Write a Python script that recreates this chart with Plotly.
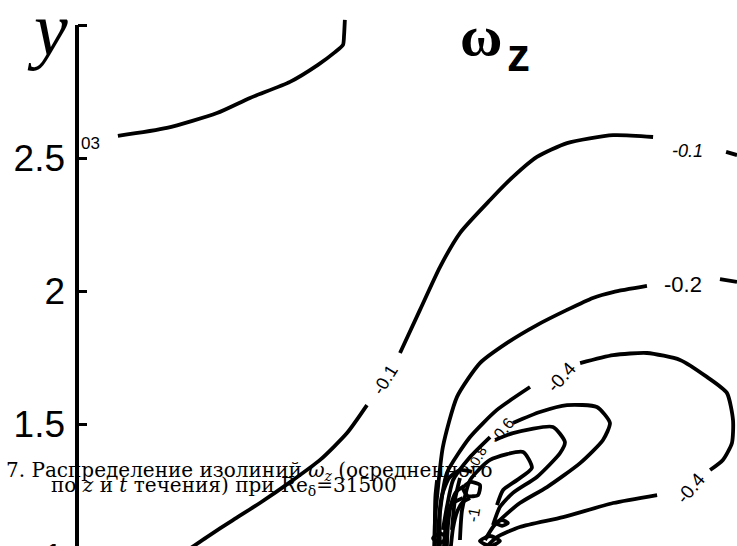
import plotly.graph_objects as go

W, H = 737, 546

# ---------------- iso-lines of the mean vorticity (x, y in flow units) ----------------
lvl_003 = 0.03
iso003_x = [0.146, 0.330, 0.518, 0.642, 0.792, 0.897, 0.961, 0.991, 0.995, 0.998]
iso003_y = [2.583, 2.613, 2.669, 2.726, 2.786, 2.850, 2.898, 2.925, 2.962, 3.019]

lvl_01 = -0.1
iso01_right_x = [2.429, 2.470]
iso01_right_y = [2.523, 2.511]
iso01_upper_x = [2.155, 2.005, 1.832, 1.719, 1.629, 1.543, 1.430, 1.355, 1.280, 1.205]
iso01_upper_y = [2.579, 2.586, 2.556, 2.504, 2.429, 2.342, 2.218, 2.090, 1.929, 1.767]
iso01_lower_x = [1.081, 1.006, 0.905, 0.803, 0.679, 0.578, 0.480, 0.398]
iso01_lower_y = [1.571, 1.466, 1.365, 1.289, 1.203, 1.139, 1.075, 1.019]

lvl_02 = -0.2
iso02_right_x = [2.406, 2.470]
iso02_right_y = [2.045, 2.034]
iso02_main_x = [2.132, 2.005, 1.929, 1.832, 1.719, 1.607, 1.505, 1.419, 1.366, 1.344, 1.336, 1.333]
iso02_main_y = [2.019, 1.996, 1.974, 1.929, 1.872, 1.805, 1.729, 1.602, 1.414, 1.226, 1.128, 1.026]

lvl_04 = -0.4
iso04_a_x = [1.355, 1.355, 1.381, 1.468, 1.569, 1.693]
iso04_a_y = [1.026, 1.165, 1.316, 1.451, 1.553, 1.639]
iso04_b_x = [1.881, 2.005, 2.132, 2.256, 2.357, 2.432, 2.455, 2.451, 2.417, 2.369]
iso04_b_y = [1.729, 1.759, 1.767, 1.741, 1.677, 1.617, 1.515, 1.429, 1.365, 1.327]
iso04_c_x = [2.170, 2.005, 1.817, 1.655, 1.569, 1.532]
iso04_c_y = [1.233, 1.203, 1.150, 1.113, 1.075, 1.041]

lvl_06 = -0.6
iso06_a_x = [1.629, 1.730, 1.832, 1.944, 1.993, 1.967, 1.881, 1.757, 1.655, 1.592, 1.554, 1.524]
iso06_a_y = [1.504, 1.545, 1.571, 1.564, 1.504, 1.440, 1.353, 1.263, 1.203, 1.150, 1.113, 1.064]
iso06_b_x = [1.543, 1.468, 1.404, 1.381, 1.366]
iso06_b_y = [1.451, 1.376, 1.289, 1.188, 1.102]

lvl_08 = -0.8
iso08_a_x = [1.400, 1.411, 1.430]
iso08_a_y = [1.102, 1.214, 1.297]
iso08_b_x = [1.562, 1.629, 1.779, 1.824, 1.806, 1.719, 1.629, 1.580, 1.554]
iso08_b_y = [1.440, 1.466, 1.489, 1.432, 1.391, 1.301, 1.241, 1.188, 1.120]

lvl_10 = -1.0
iso10_x = [1.430, 1.438, 1.468, 1.543, 1.667, 1.700, 1.644, 1.592, 1.569]
iso10_y = [1.064, 1.177, 1.289, 1.365, 1.395, 1.335, 1.289, 1.252, 1.195]

lvl_12 = -1.2
iso12_x = [1.348, 1.351, 1.363, 1.389, 1.430, 1.475]
iso12_y = [1.041, 1.139, 1.233, 1.297, 1.327, 1.320]

lvl_15 = -1.5
iso15_x = [1.441, 1.468, 1.505, 1.498, 1.460, 1.441]
iso15_y = [1.259, 1.282, 1.271, 1.233, 1.229, 1.259]
iso15_wall_x = [1.370, 1.378, 1.400, 1.441]
iso15_wall_y = [1.041, 1.128, 1.200, 1.222]

lvl_20 = -2.0
iso20_a_x = [1.329, 1.355, 1.381, 1.355, 1.329]
iso20_a_y = [1.071, 1.090, 1.071, 1.053, 1.071]
iso20_b_x = [1.505, 1.543, 1.580, 1.543, 1.505]
iso20_b_y = [1.060, 1.079, 1.060, 1.041, 1.060]
iso20_c_x = [1.565, 1.588, 1.610, 1.588, 1.565]
iso20_c_y = [1.128, 1.139, 1.128, 1.117, 1.128]

lvl_25 = -2.5
iso25_x = [1.336, 1.336, 1.338, 1.344]
iso25_y = [1.041, 1.150, 1.230, 1.289]

lvl_30 = -3.0
iso30_x = [1.381, 1.385, 1.396, 1.415, 1.445]
iso30_y = [1.041, 1.120, 1.195, 1.244, 1.267]

lvl_35 = -3.5
iso35_x = [1.396, 1.404, 1.419, 1.441, 1.468]
iso35_y = [1.041, 1.109, 1.169, 1.207, 1.222]

segments = [
    (iso003_x, iso003_y),
    (iso01_right_x, iso01_right_y), (iso01_upper_x, iso01_upper_y), (iso01_lower_x, iso01_lower_y),
    (iso02_right_x, iso02_right_y), (iso02_main_x, iso02_main_y),
    (iso04_a_x, iso04_a_y), (iso04_b_x, iso04_b_y), (iso04_c_x, iso04_c_y),
    (iso06_a_x, iso06_a_y), (iso06_b_x, iso06_b_y),
    (iso08_a_x, iso08_a_y), (iso08_b_x, iso08_b_y),
    (iso10_x, iso10_y),
    (iso12_x, iso12_y),
    (iso15_x, iso15_y), (iso15_wall_x, iso15_wall_y),
    (iso20_a_x, iso20_a_y), (iso20_b_x, iso20_b_y), (iso20_c_x, iso20_c_y),
    (iso25_x, iso25_y),
    (iso30_x, iso30_y),
    (iso35_x, iso35_y),
]

# inline level labels: (level, x, y, angle, size, italic)
labels = [
    (lvl_01, 2.286, 2.526, 0, 18, True),
    (lvl_01, 1.149, 1.665, -58, 18, False),
    (lvl_02, 2.267, 2.023, 0, 22, False),
    (lvl_04, 1.813, 1.677, -48, 19, False),
    (lvl_04, 2.294, 1.259, -50, 19, False),
    (lvl_06, 1.588, 1.477, -50, 16, False),
    (lvl_08, 1.494, 1.372, -60, 14, False),
    (lvl_10, 1.483, 1.158, -80, 16, False),
]

y_ticks = [1.5, 2.0, 2.5, 3.0]
y_tick_text = ["1.5", "2", "2.5", ""]

PX_PER_UNIT_X = 266.4
PX_PER_UNIT_Y = 266.0
X0 = -79 / PX_PER_UNIT_X
Y_TOP = 823 / PX_PER_UNIT_Y
Y_BOT = Y_TOP - H / PX_PER_UNIT_Y
AXIS_X = -2 / PX_PER_UNIT_X


def paper_y(v):
    return (v - Y_BOT) / (Y_TOP - Y_BOT)


fig = go.Figure()
for sx, sy in segments:
    fig.add_trace(go.Scatter(x=sx, y=sy, mode="lines",
                             line=dict(color="black", width=3.8, shape="spline", smoothing=0.6),
                             hoverinfo="skip", showlegend=False))

ann = []
for lv, lx, ly, ang, sz, it in labels:
    ann.append(dict(x=lx, y=ly, xref="x", yref="y", text=f"{lv:g}", showarrow=False,
                    xanchor="center", yanchor="middle", textangle=ang,
                    font=dict(family="Liberation Sans", size=sz, color="black",
                              style="italic" if it else "normal")))
ann.append(dict(x=0.0, y=2.556, xref="x", yref="y", text="03", showarrow=False,
                xanchor="left", yanchor="middle",
                font=dict(family="Liberation Sans", size=17, color="black")))

# lowest tick label, only partly inside the frame
ann.append(dict(x=66 / W, y=paper_y(1.0), xref="paper", yref="paper", text="1", showarrow=False,
                xanchor="right", yanchor="middle",
                font=dict(family="Liberation Sans", size=37, color="black")))

# axis name and title
ann.append(dict(x=48 / W, y=1 - 29 / H, xref="paper", yref="paper", text="<i>y</i>", showarrow=False,
                xanchor="center", yanchor="middle",
                font=dict(family="Liberation Serif", size=76, color="black")))
ann.append(dict(x=481 / W, y=1 - 35 / H, xref="paper", yref="paper", text="<b>ω</b>", showarrow=False,
                xanchor="center", yanchor="middle",
                font=dict(family="Liberation Serif", size=58, color="black")))
ann.append(dict(x=518 / W, y=1 - 55 / H, xref="paper", yref="paper", text="<b>z</b>", showarrow=False,
                xanchor="center", yanchor="middle",
                font=dict(family="Liberation Sans", size=46, color="black")))

# caption
cap_font = dict(family="DejaVu Serif", size=20, color="black")
ann.append(dict(x=4 / W, y=1 - 456 / H, xref="paper", yref="paper", xanchor="left", yanchor="top",
                text="7. Распределение изолиний <i>ω<sub>z</sub></i> (осредненного",
                showarrow=False, font=cap_font))
ann.append(dict(x=49 / W, y=1 - 471 / H, xref="paper", yref="paper", xanchor="left", yanchor="top",
                text="по <i>z</i> и <i>t</i> течения) при Re<sub>δ</sub>=31500",
                showarrow=False, font=cap_font))

fig.add_shape(type="line", x0=AXIS_X, x1=AXIS_X, y0=Y_BOT, y1=3.0, xref="x", yref="y",
              line=dict(color="black", width=4))

fig.update_layout(
    width=W, height=H, margin=dict(l=0, r=0, t=0, b=0),
    paper_bgcolor="white", plot_bgcolor="white",
    xaxis=dict(range=[X0, W / PX_PER_UNIT_X + X0], visible=False),
    yaxis=dict(range=[Y_BOT, Y_TOP], anchor="free", position=77 / W, side="left",
               showgrid=False, zeroline=False, showline=False,
               ticks="inside", ticklen=9, tickwidth=3, tickcolor="black",
               ticklabelstandoff=12,
               tickvals=y_ticks, ticktext=y_tick_text,
               tickfont=dict(family="Liberation Sans", size=37, color="black")),
    annotations=ann, showlegend=False,
)

fig.write_html("out.html")
